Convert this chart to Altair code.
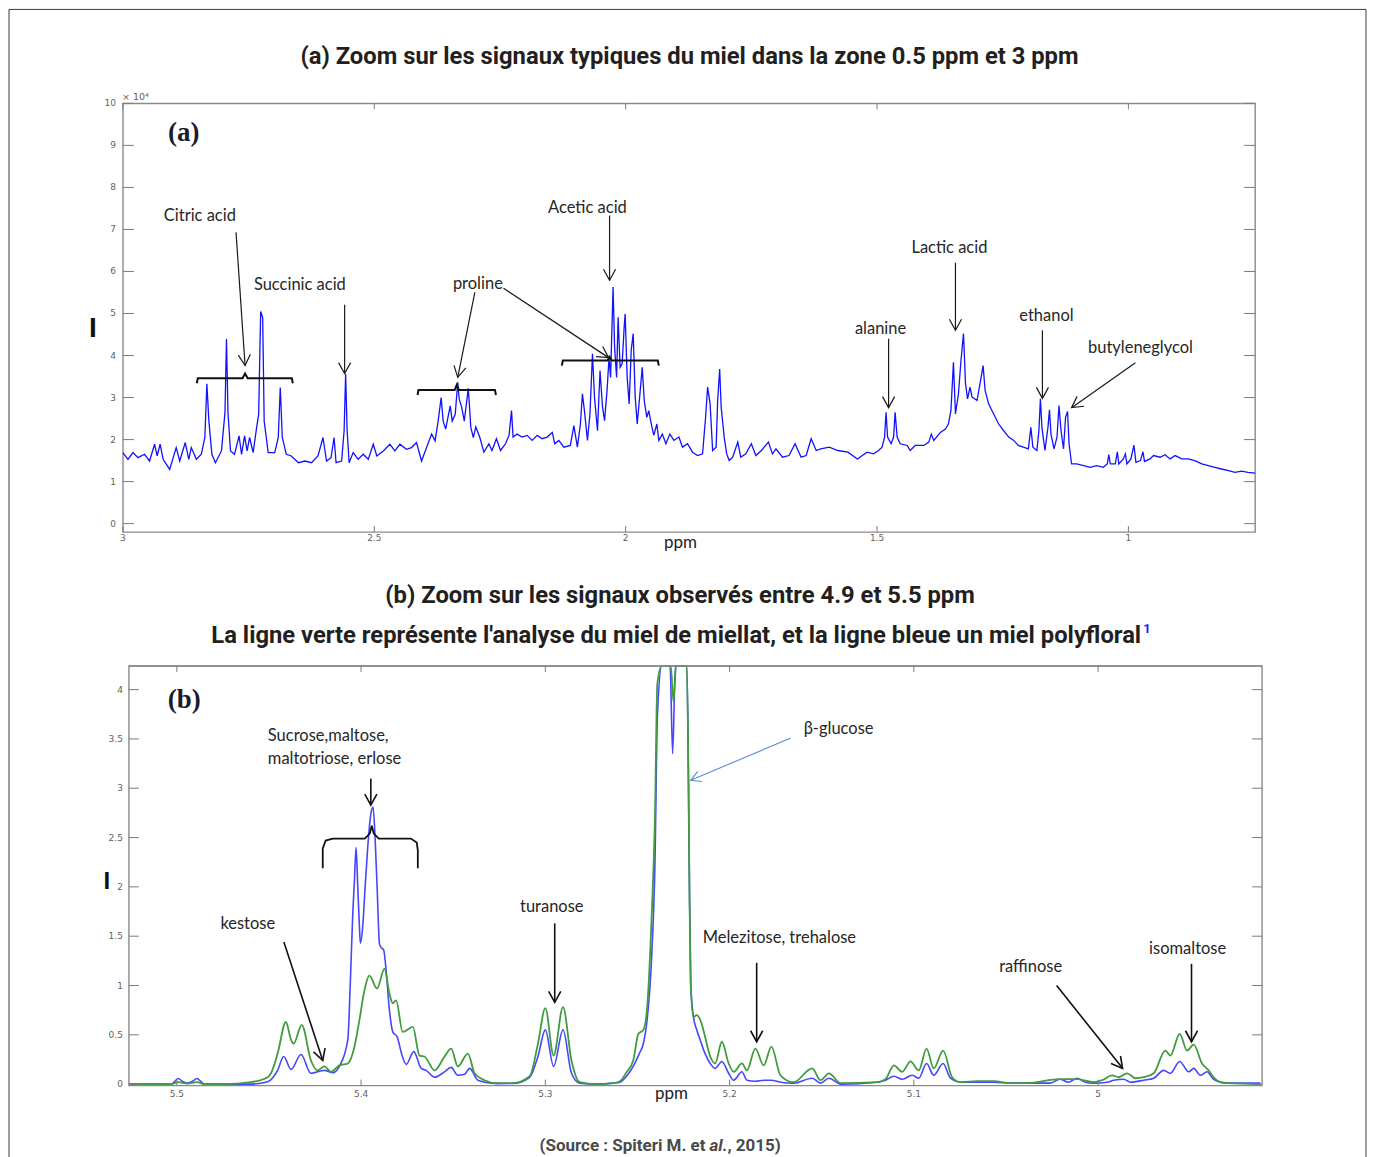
import math
import altair as alt
import pandas as pd

# ---------------------------------------------------------------- data
# Panel (a): 1H NMR spectrum 0.75 - 3 ppm (intensity x 10^4)
A_PPM = [
    3.000, 2.990, 2.980, 2.970, 2.957, 2.947, 2.937, 2.932, 2.926, 2.920,
    2.907, 2.894, 2.887, 2.876, 2.869, 2.864, 2.854, 2.844, 2.837, 2.833,
    2.829, 2.823, 2.816, 2.804, 2.797, 2.794, 2.791, 2.786, 2.778, 2.769,
    2.764, 2.758, 2.753, 2.748, 2.741, 2.734, 2.730, 2.726, 2.722, 2.719,
    2.711, 2.698, 2.691, 2.687, 2.683, 2.675, 2.665, 2.651, 2.638, 2.625,
    2.612, 2.602, 2.595, 2.586, 2.580, 2.576, 2.565, 2.560, 2.557, 2.554,
    2.550, 2.542, 2.532, 2.522, 2.512, 2.502, 2.495, 2.482, 2.469, 2.459,
    2.449, 2.436, 2.426, 2.416, 2.406, 2.396, 2.386, 2.379, 2.373, 2.367,
    2.363, 2.358, 2.349, 2.345, 2.339, 2.334, 2.331, 2.326, 2.321, 2.313,
    2.308, 2.303, 2.298, 2.290,
    2.282, 2.272, 2.266, 2.257, 2.249, 2.239, 2.232, 2.227, 2.224, 2.216,
    2.206, 2.196, 2.186, 2.176, 2.166, 2.156, 2.146, 2.141, 2.133, 2.123,
    2.110, 2.103, 2.096, 2.090, 2.086, 2.082, 2.076, 2.071, 2.066, 2.062,
    2.056, 2.051, 2.046, 2.042, 2.037, 2.033, 2.030, 2.025, 2.022, 2.018,
    2.015, 2.011, 2.007, 2.003, 2.001, 1.997, 1.993, 1.989, 1.985, 1.981,
    1.977, 1.971, 1.967, 1.963, 1.958, 1.954, 1.949, 1.944, 1.938, 1.934,
    1.927, 1.920, 1.912, 1.904, 1.894, 1.887, 1.877, 1.867, 1.857, 1.847,
    1.841, 1.837, 1.832, 1.827, 1.820, 1.817, 1.813, 1.810, 1.804, 1.799,
    1.794, 1.787, 1.777, 1.771, 1.761, 1.750, 1.741, 1.730, 1.716, 1.708,
    1.701, 1.688, 1.675, 1.663, 1.651, 1.641, 1.631, 1.621, 1.612, 1.595,
    1.578, 1.558, 1.539,
    1.520, 1.507, 1.497, 1.490, 1.485, 1.482, 1.479, 1.472, 1.467, 1.464,
    1.460, 1.454, 1.440, 1.434, 1.424, 1.407, 1.397, 1.392, 1.387, 1.374,
    1.364, 1.358, 1.353, 1.348, 1.344, 1.338, 1.333, 1.328, 1.324, 1.320,
    1.315, 1.311, 1.301, 1.293, 1.289, 1.285, 1.278, 1.268, 1.258, 1.248,
    1.238, 1.228, 1.219, 1.209, 1.199, 1.194, 1.190, 1.182, 1.178, 1.175,
    1.172, 1.166, 1.160, 1.157, 1.154, 1.148, 1.142, 1.138, 1.134, 1.129,
    1.125, 1.121, 1.118, 1.113, 1.103, 1.089, 1.076, 1.063, 1.050, 1.042,
    1.039, 1.036, 1.026, 1.022, 1.019, 1.010, 1.006, 1.003, 0.995, 0.989,
    0.985, 0.976, 0.971, 0.968, 0.957, 0.950, 0.937, 0.927, 0.917, 0.907,
    0.894, 0.881, 0.868, 0.854, 0.841, 0.828, 0.815, 0.801, 0.788, 0.775,
    0.762, 0.748,
]
A_INT = [
    1.69, 1.53, 1.69, 1.57, 1.65, 1.49, 1.89, 1.61, 1.89, 1.53,
    1.29, 1.81, 1.49, 1.93, 1.53, 1.81, 1.53, 1.65, 2.05, 3.33,
    2.44, 1.65, 1.45, 1.73, 2.64, 4.39, 2.64, 1.73, 1.65, 2.09,
    1.65, 2.09, 1.73, 2.05, 1.69, 2.29, 2.60, 5.05, 4.90, 2.44,
    1.69, 1.69, 2.05, 3.24, 2.05, 1.65, 1.61, 1.45, 1.49, 1.45,
    1.61, 2.05, 1.49, 1.57, 2.05, 1.45, 1.49, 2.21, 3.56, 2.21,
    1.45, 1.69, 1.53, 1.65, 1.53, 1.89, 1.61, 1.73, 1.89, 1.73,
    1.89, 1.77, 1.81, 1.93, 1.49, 1.81, 2.13, 1.97, 2.44, 3.00,
    2.44, 2.25, 2.80, 2.44, 2.60, 3.36, 2.96, 2.76, 2.44, 3.22,
    2.29, 2.05, 2.30, 2.05,
    1.70, 1.90, 1.74, 2.02, 1.74, 1.90, 2.10, 2.69, 2.06, 2.13,
    2.06, 2.10, 1.98, 2.10, 2.02, 2.06, 2.17, 1.90, 1.98, 1.82,
    1.86, 2.33, 1.82, 2.37, 3.09, 2.69, 1.98, 2.61, 4.04, 3.01,
    2.21, 3.64, 2.77, 2.45, 3.17, 3.96, 3.48, 5.63, 4.20, 3.48,
    4.91, 3.72, 3.80, 4.67, 4.99, 3.48, 2.85, 4.12, 4.52, 3.01,
    2.37, 3.17, 3.72, 2.93, 2.53, 2.69, 2.37, 2.10, 2.37, 1.98,
    2.13, 1.90, 2.13, 1.98, 2.06, 1.82, 1.90, 1.70, 1.62, 1.66,
    2.53, 3.25, 2.85, 1.74, 1.82, 2.93, 3.68, 2.77, 2.06, 1.66,
    1.50, 1.58, 1.94, 1.58, 1.66, 1.90, 1.62, 1.74, 1.94, 1.66,
    1.78, 1.58, 1.62, 1.90, 1.58, 1.62, 2.02, 1.74, 1.78, 1.82,
    1.74, 1.70, 1.54,
    1.70, 1.66, 1.74, 1.82, 2.06, 2.65, 2.06, 1.90, 2.06, 2.65,
    2.06, 1.90, 1.86, 1.74, 1.86, 1.86, 1.94, 2.13, 1.98, 2.17,
    2.25, 2.37, 2.69, 3.84, 2.61, 3.09, 3.88, 4.52, 3.33, 2.97,
    3.25, 3.01, 2.93, 3.48, 3.76, 3.17, 2.85, 2.61, 2.37, 2.21,
    2.06, 1.98, 1.86, 1.82, 1.78, 2.29, 1.82, 1.74, 2.21, 2.97,
    2.29, 1.74, 2.29, 2.71, 2.13, 1.78, 2.06, 2.81, 2.21, 1.78,
    2.53, 2.67, 1.90, 1.42, 1.42, 1.38, 1.34, 1.38, 1.34, 1.42,
    1.64, 1.42, 1.42, 1.71, 1.42, 1.54, 1.66, 1.42, 1.54, 1.87,
    1.46, 1.50, 1.71, 1.48, 1.54, 1.62, 1.58, 1.64, 1.54, 1.62,
    1.54, 1.54, 1.50, 1.42, 1.38, 1.34, 1.30, 1.26, 1.22, 1.25,
    1.22, 1.20,
]

# Panel (b): polyfloral honey (blue) and honeydew honey (green), 4.91 - 5.53 ppm
B_BLUE_PPM = [
    5.526, 5.510, 5.503, 5.501, 5.4993, 5.4970, 5.4942, 5.4915, 5.4891, 5.4865,
    5.4851, 5.4743, 5.4598, 5.4507, 5.4453, 5.4420, 5.4380, 5.4326, 5.4272, 5.4199,
    5.4154, 5.4118, 5.4072, 5.4058, 5.4045, 5.4036, 5.4027, 5.4018, 5.4009, 5.4004,
    5.3991, 5.3978, 5.3964, 5.3946, 5.3935, 5.3924, 5.3913, 5.3900, 5.3888, 5.3877,
    5.3864, 5.3846, 5.3828, 5.3804, 5.3779, 5.3755, 5.3714, 5.3674, 5.3647, 5.3601,
    5.3547, 5.3511, 5.3475, 5.3438, 5.3411, 5.3366, 5.3293,
    5.3267, 5.3176, 5.3085, 5.3040, 5.3000, 5.2955, 5.2904, 5.2858, 5.2813, 5.2722,
    5.2632, 5.2595, 5.2559, 5.2523, 5.2490, 5.2468, 5.2450, 5.2423, 5.2405, 5.2392,
    5.2368, 5.2340, 5.2323, 5.2309, 5.2294, 5.2278, 5.2250, 5.2232, 5.2223, 5.2218,
    5.2211, 5.2196, 5.2178, 5.2160, 5.2133, 5.2105, 5.2078, 5.2042, 5.2005, 5.1978,
    5.1933, 5.1906, 5.1860, 5.1815, 5.1773, 5.1724, 5.1652, 5.1552, 5.1506, 5.1461,
    5.1397, 5.1199, 5.1154, 5.1108, 5.1063, 5.1009, 5.0973, 5.0931, 5.0892, 5.0841,
    5.0801, 5.0747, 5.0656, 5.0566, 5.0476, 5.0385, 5.0259, 5.0208, 5.0159, 5.0114,
    5.0069, 5.0024, 4.9951, 4.9915, 4.9861, 4.9825, 4.9752, 4.9698, 4.9644, 4.9608,
    4.9557, 4.9508, 4.9481, 4.9445, 4.9409, 4.9373, 4.9300, 4.9119,
]
B_BLUE_INT = [
    0.0, 0.0, 0.0, 0.03, 0.057, 0.03, 0.01, 0.03, 0.057, 0.02,
    0.0, 0.0, 0.0, 0.025, 0.14, 0.28, 0.15, 0.30, 0.11, 0.14,
    0.115, 0.18, 0.45, 1.05, 1.73, 2.07, 2.40, 2.00, 1.60, 1.43,
    1.60, 2.00, 2.40, 2.75, 2.81, 2.50, 2.00, 1.42, 1.38, 1.36,
    1.15, 0.75, 0.53, 0.48, 0.30, 0.20, 0.33, 0.16, 0.14, 0.07,
    0.125, 0.17, 0.09, 0.10, 0.16, 0.04, 0.01,
    0.005, 0.007, 0.07, 0.28, 0.55, 0.18, 0.55, 0.11, 0.01, 0.0,
    0.01, 0.02, 0.08, 0.18, 0.31, 0.41, 0.61, 1.29, 2.24, 3.72,
    5.6, 5.9, 4.6, 3.35, 4.6, 5.9, 5.6, 4.26, 3.05, 2.03,
    1.02, 0.68, 0.55, 0.45, 0.31, 0.21, 0.16, 0.23, 0.11, 0.04,
    0.125, 0.04, 0.03, 0.04, 0.04, 0.02, 0.01, 0.06, 0.01, 0.06,
    0.0, 0.02, 0.04, 0.08, 0.05, 0.09, 0.06, 0.21, 0.09, 0.21,
    0.06, 0.02, 0.02, 0.02, 0.01, 0.01, 0.01, 0.05, 0.02, 0.06,
    0.02, 0.01, 0.02, 0.04, 0.05, 0.02, 0.04, 0.06, 0.14, 0.11,
    0.23, 0.125, 0.16, 0.09, 0.125, 0.05, 0.01, 0.01,
]
B_GREEN_PPM = [
    5.526, 5.503, 5.4993, 5.4942, 5.4891, 5.4851, 5.4743, 5.4598, 5.4507, 5.4489,
    5.4453, 5.4408, 5.4380, 5.4366, 5.4322, 5.4272, 5.4236, 5.4199, 5.4163, 5.4118,
    5.4072, 5.4036, 5.4009, 5.3982, 5.3955, 5.3913, 5.3873, 5.3846, 5.3828, 5.3810,
    5.3774, 5.3719, 5.3683, 5.3656, 5.3601, 5.3547, 5.3511, 5.3475, 5.3420, 5.3384,
    5.3330, 5.3267, 5.3176, 5.3085, 5.3040, 5.3000, 5.2955, 5.2904, 5.2858, 5.2813,
    5.2722, 5.2632, 5.2595, 5.2559, 5.2523, 5.2495, 5.2468, 5.2450, 5.2423, 5.2405,
    5.2392, 5.2368, 5.2340, 5.2319, 5.2305, 5.2290, 5.2270, 5.2247, 5.2232, 5.2223,
    5.2218, 5.2211, 5.2196, 5.2178, 5.2151, 5.2133, 5.2105, 5.2078, 5.2042, 5.2005,
    5.1978, 5.1933, 5.1906, 5.1860, 5.1815, 5.1773, 5.1724, 5.1652, 5.1552, 5.1506,
    5.1461, 5.1397, 5.1199, 5.1154, 5.1108, 5.1063, 5.1018, 5.0973, 5.0931, 5.0892,
    5.0841, 5.0792, 5.0747, 5.0656, 5.0566, 5.0476, 5.0385, 5.0208, 5.0114, 5.0024,
    4.9978, 4.9924, 4.9888, 4.9843, 4.9797, 4.9752, 4.9698, 4.9635, 4.9608, 4.9557,
    4.9517, 4.9481, 4.9436, 4.9400, 4.9373, 4.9336, 4.9300, 4.9119,
]
B_GREEN_INT = [
    0.0, 0.0, 0.02, 0.005, 0.02, 0.0, 0.0, 0.02, 0.07, 0.11,
    0.31, 0.63, 0.45, 0.41, 0.60, 0.24, 0.14, 0.18, 0.125, 0.19,
    0.21, 0.38, 0.65, 0.95, 1.10, 0.97, 1.17, 0.92, 0.82, 0.85,
    0.53, 0.58, 0.29, 0.28, 0.14, 0.28, 0.36, 0.18, 0.31, 0.11,
    0.04, 0.01, 0.01, 0.08, 0.41, 0.77, 0.29, 0.78, 0.24, 0.02,
    0.0, 0.01, 0.03, 0.12, 0.24, 0.51, 0.55, 0.72, 1.70, 2.71,
    4.06, 5.8, 6.0, 4.6, 3.88, 4.6, 6.0, 5.8, 4.3, 3.05,
    2.03, 1.02, 0.68, 0.70, 0.61, 0.48, 0.28, 0.21, 0.43, 0.21,
    0.125, 0.21, 0.14, 0.36, 0.19, 0.38, 0.09, 0.02, 0.16, 0.04,
    0.11, 0.01, 0.02, 0.05, 0.19, 0.125, 0.23, 0.14, 0.36, 0.16,
    0.34, 0.07, 0.02, 0.03, 0.03, 0.01, 0.01, 0.05, 0.05, 0.02,
    0.04, 0.09, 0.07, 0.11, 0.06, 0.07, 0.11, 0.34, 0.29, 0.51,
    0.34, 0.40, 0.21, 0.14, 0.07, 0.02, 0.01, 0.0,
]

assert len(A_PPM) == len(A_INT)
assert len(B_BLUE_PPM) == len(B_BLUE_INT)
assert len(B_GREEN_PPM) == len(B_GREEN_INT)

# tick values and tick labels
A_XTICKS = [3.0, 2.5, 2.0, 1.5, 1.0]
A_XLABELS = ["3", "2.5", "2", "1.5", "1"]
A_YTICKS = [0, 1, 2, 3, 4, 5, 6, 7, 8, 9, 10]
A_YLABELS = ["0", "1", "2", "3", "4", "5", "6", "7", "8", "9", "10"]
B_XTICKS = [5.5, 5.4, 5.3, 5.2, 5.1, 5.0]
B_XLABELS = ["5.5", "5.4", "5.3", "5.2", "5.1", "5"]
B_YTICKS = [0, 0.5, 1, 1.5, 2, 2.5, 3, 3.5, 4]
B_YLABELS = ["0", "0.5", "1", "1.5", "2", "2.5", "3", "3.5", "4"]

# annotations, panel (a) (data coordinates)
A_LABEL_TEXT = ["Citric acid", "Succinic acid", "proline", "Acetic acid",
                "alanine", "Lactic acid", "ethanol", "butyleneglycol"]
A_LABEL_PPM = [2.847, 2.648, 2.294, 2.076, 1.493, 1.356, 1.163, 0.976]
A_LABEL_INT = [7.31, 5.67, 5.71, 7.50, 4.64, 6.57, 4.93, 4.17]

A_ARROW_FROM_PPM = [2.775, 2.559, 2.300, 2.243, 2.032, 1.477, 1.344, 1.171, 0.986]
A_ARROW_FROM_INT = [6.93, 5.21, 5.50, 5.60, 7.33, 4.40, 6.21, 4.60, 3.83]
A_ARROW_TO_PPM = [2.757, 2.559, 2.334, 2.034, 2.032, 1.477, 1.344, 1.171, 1.113]
A_ARROW_TO_INT = [3.76, 3.57, 3.48, 3.95, 5.79, 2.76, 4.60, 2.98, 2.76]

CITRIC_BR_PPM = [2.853, 2.851, 2.762, 2.757, 2.752, 2.664, 2.662]
CITRIC_BR_INT = [3.34, 3.46, 3.46, 3.57, 3.46, 3.46, 3.34]
PROLINE_BR_PPM = [2.414, 2.412, 2.340, 2.336, 2.332, 2.260, 2.258]
PROLINE_BR_INT = [3.06, 3.18, 3.18, 3.30, 3.18, 3.18, 3.06]
ACETIC_BR_PPM = [2.127, 2.125, 2.036, 2.032, 2.028, 1.936, 1.934]
ACETIC_BR_INT = [3.76, 3.88, 3.88, 3.97, 3.88, 3.88, 3.76]

# annotations, panel (b)
B_CLABEL_TEXT = ["kestose", "turanose", "raffinose", "isomaltose"]
B_CLABEL_PPM = [5.4615, 5.2965, 5.0366, 4.9514]
B_CLABEL_INT = [1.62, 1.80, 1.19, 1.37]
B_LLABEL_TEXT = ["Sucrose,maltose,", "maltotriose, erlose", "β-glucose", "Melezitose, trehalose"]
B_LLABEL_PPM = [5.4506, 5.4506, 5.1598, 5.2146]
B_LLABEL_INT = [3.53, 3.30, 3.60, 1.48]

B_ARROW_FROM_PPM = [5.3947, 5.4419, 5.2949, 5.1853, 5.0225, 4.9493]
B_ARROW_FROM_INT = [3.10, 1.44, 1.63, 1.23, 1.00, 1.22]
B_ARROW_TO_PPM = [5.3947, 5.4208, 5.2949, 5.1853, 4.9867, 4.9493]
B_ARROW_TO_INT = [2.83, 0.24, 0.83, 0.43, 0.16, 0.43]
B_GLC_ARROW_PPM = [5.1668, 5.2211]
B_GLC_ARROW_INT = [3.51, 3.08]

SUCROSE_BR_PPM = [5.4208, 5.4208, 5.4192, 5.4154, 5.3980, 5.3953, 5.3942,
                  5.3931, 5.3904, 5.3730, 5.3698, 5.3692, 5.3692]
SUCROSE_BR_INT = [2.19, 2.39, 2.47, 2.49, 2.49, 2.54, 2.62,
                  2.54, 2.49, 2.49, 2.45, 2.37, 2.19]

# ---------------------------------------------------------------- style / geometry
FT = "Roboto, Liberation Sans, Arial, sans-serif"
FA = "Lato, Open Sans, sans-serif"
FK = "DejaVu Sans, sans-serif"
FSERIF = "Liberation Serif, Times New Roman, serif"
INK = "#231f20"
TICKC = "#7a7a7a"
LABC = "#5f5f5f"
BOXC = "#8a8a8a"
FRAME = "#3a3a3a"
HEAD = "M -0.55 -1 L 0 0 L 0.55 -1"

# panel (a) plot area is the view; panel (b) plot area is offset inside the same canvas
WA, HA = 1133, 429
A_XDOM = [0.748, 3.0]
A_YDOM = [-0.2, 10.0]
WB, HB = 1134, 420
BX0, BY0 = 6, 563
B_XDOM = [4.911, 5.526]
B_YDOM = [-0.015, 4.24]

ONE = pd.DataFrame({"k": [0]})

xsA = alt.Scale(domain=A_XDOM, range=[WA, 0], nice=False, zero=False)
ysA = alt.Scale(domain=A_YDOM, range=[HA, 0], nice=False, zero=False)
xsB = alt.Scale(domain=B_XDOM, range=[BX0 + WB, BX0], nice=False, zero=False)
ysB = alt.Scale(domain=B_YDOM, range=[BY0 + HB, BY0], nice=False, zero=False)
ysBc = alt.Scale(domain=B_YDOM, range=[BY0 + HB, BY0], nice=False, zero=False, clamp=True)


def X(field, s):
    return alt.X(field, type="quantitative", scale=s, axis=None)


def Y(field, s):
    return alt.Y(field, type="quantitative", scale=s, axis=None)


def ptext(text, x, y, size, font=FT, weight="bold", color=INK, align="center", style="normal"):
    return alt.Chart(ONE).mark_text(
        text=text, font=font, fontSize=size, fontWeight=weight, fontStyle=style,
        color=color, align=align, baseline="middle"
    ).encode(x=alt.value(x), y=alt.value(y))


def prule(x, y, x2=None, y2=None, color=FRAME, width=1.0):
    enc = {"x": alt.value(x), "y": alt.value(y)}
    if x2 is not None:
        enc["x2"] = alt.value(x2)
    if y2 is not None:
        enc["y2"] = alt.value(y2)
    return alt.Chart(ONE).mark_rule(color=color, strokeWidth=width).encode(**enc)


def arrows_df(x1, y1, x2, y2, W, H, xdom, ydom):
    sx = W / (xdom[1] - xdom[0])
    sy = H / (ydom[1] - ydom[0])
    rows = []
    for a, b, c, d in zip(x1, y1, x2, y2):
        dxp = -(c - a) * sx      # ppm axis runs right-to-left
        dyp = -(d - b) * sy
        ang = math.degrees(math.atan2(-dxp, dyp)) % 360
        rows.append({"x": a, "y": b, "x2": c, "y2": d, "ang": ang})
    return pd.DataFrame(rows)


def bracket_df(groups):
    rows = []
    for g, (px, py) in enumerate(groups):
        for i, (a, b) in enumerate(zip(px, py)):
            rows.append({"x": a, "y": b, "g": g, "i": i})
    return pd.DataFrame(rows)


def tick_layers(xs, ys, xt, yt, x0, y0, W, H, side_len, tb_len):
    dy = pd.DataFrame({"y": yt})
    dx = pd.DataFrame({"x": xt})
    return [
        alt.Chart(dy).mark_rule(color=TICKC, strokeWidth=1).encode(
            y=Y("y", ys), x=alt.value(x0), x2=alt.value(x0 + side_len)),
        alt.Chart(dy).mark_rule(color=TICKC, strokeWidth=1).encode(
            y=Y("y", ys), x=alt.value(x0 + W - side_len), x2=alt.value(x0 + W)),
        alt.Chart(dx).mark_rule(color=TICKC, strokeWidth=1).encode(
            x=X("x", xs), y=alt.value(y0), y2=alt.value(y0 + tb_len)),
        alt.Chart(dx).mark_rule(color=TICKC, strokeWidth=1).encode(
            x=X("x", xs), y=alt.value(y0 + H - tb_len), y2=alt.value(y0 + H)),
    ]


def label_layers(xs, ys, xt, xl, yt, yl, xlab_y, ylab_x):
    dx = pd.DataFrame({"x": xt, "t": xl})
    dy = pd.DataFrame({"y": yt, "t": yl})
    return [
        alt.Chart(dx).mark_text(font=FK, fontSize=9, color=LABC, baseline="middle", align="center").encode(
            x=X("x", xs), y=alt.value(xlab_y), text="t:N"),
        alt.Chart(dy).mark_text(font=FK, fontSize=9, color=LABC, baseline="middle", align="right").encode(
            y=Y("y", ys), x=alt.value(ylab_x), text="t:N"),
    ]


def text_layer(px, py, txt, xs, ys, size=16.5, align="center", font=FA, weight="normal", color="#262626"):
    df = pd.DataFrame({"x": px, "y": py, "t": txt})
    return alt.Chart(df).mark_text(font=font, fontSize=size, fontWeight=weight, color=color,
                                   baseline="middle", align=align).encode(
        x=X("x", xs), y=Y("y", ys), text="t:N")


def arrow_layers(df, xs, ys, color, width, size):
    shaft = alt.Chart(df).mark_rule(color=color, strokeWidth=width).encode(
        x=X("x", xs), x2="x2:Q", y=Y("y", ys), y2="y2:Q")
    head = alt.Chart(df).mark_point(shape=HEAD, size=size, filled=False, color=color,
                                    strokeWidth=width, opacity=1).encode(
        x=X("x2", xs), y=Y("y2", ys), angle=alt.Angle("ang:Q", scale=None))
    return [shaft, head]


# ---------------------------------------------------------------- panel (a) layers
dfA = pd.DataFrame({"x": A_PPM, "y": A_INT, "i": range(len(A_PPM))})
specA = alt.Chart(dfA).mark_line(color="#1212ff", strokeWidth=1.3).encode(
    x=X("x", xsA), y=Y("y", ysA), order="i:Q")

arA = arrows_df(A_ARROW_FROM_PPM, A_ARROW_FROM_INT, A_ARROW_TO_PPM, A_ARROW_TO_INT, WA, HA, A_XDOM, A_YDOM)
brA = alt.Chart(bracket_df([(CITRIC_BR_PPM, CITRIC_BR_INT), (PROLINE_BR_PPM, PROLINE_BR_INT),
                            (ACETIC_BR_PPM, ACETIC_BR_INT)])).mark_line(
    color="#111111", strokeWidth=2).encode(x=X("x", xsA), y=Y("y", ysA), detail="g:N", order="i:Q")

layersA = [
    specA,
    *tick_layers(xsA, ysA, A_XTICKS, A_YTICKS, 0, 0, WA, HA, 11, 6),
    *label_layers(xsA, ysA, A_XTICKS, A_XLABELS, A_YTICKS, A_YLABELS, 435, -7),
    brA,
    *arrow_layers(arA, xsA, ysA, "#1a1a1a", 1.2, 484),
    text_layer(A_LABEL_PPM, A_LABEL_INT, A_LABEL_TEXT, xsA, ysA),
    text_layer([2.879], [9.29], ["(a)"], xsA, ysA, size=27, font=FSERIF, weight="bold", color="#1b1b2e"),
    ptext("(a) Zoom sur les signaux typiques du miel dans la zone 0.5 ppm et 3 ppm", 567, -46, 23.8),
    ptext("× 10⁴", -1, -6, 9.5, font=FK, weight="normal", color=LABC, align="left"),
    ptext("I", -30, 226, 28, font="Liberation Sans, Arial, sans-serif", weight="bold", color="#111"),
    ptext("ppm", 558, 440, 17, font=FA, weight="normal", color="#222"),
]

# ---------------------------------------------------------------- panel (b) layers
dfBb = pd.DataFrame({"x": B_BLUE_PPM, "y": B_BLUE_INT, "i": range(len(B_BLUE_PPM))})
dfBg = pd.DataFrame({"x": B_GREEN_PPM, "y": B_GREEN_INT, "i": range(len(B_GREEN_PPM))})
boxB = alt.Chart(ONE).mark_rect(fillOpacity=0, stroke=BOXC, strokeWidth=1.4).encode(
    x=alt.value(BX0), x2=alt.value(BX0 + WB), y=alt.value(BY0), y2=alt.value(BY0 + HB))
blueB = alt.Chart(dfBb).mark_line(color="#4646ff", strokeWidth=1.6, interpolate="monotone").encode(
    x=X("x", xsB), y=Y("y", ysBc), order="i:Q")
greenB = alt.Chart(dfBg).mark_line(color="#3f9c3f", strokeWidth=1.8, interpolate="monotone").encode(
    x=X("x", xsB), y=Y("y", ysBc), order="i:Q")

arB = arrows_df(B_ARROW_FROM_PPM, B_ARROW_FROM_INT, B_ARROW_TO_PPM, B_ARROW_TO_INT, WB, HB, B_XDOM, B_YDOM)
glc = arrows_df([B_GLC_ARROW_PPM[0]], [B_GLC_ARROW_INT[0]], [B_GLC_ARROW_PPM[1]], [B_GLC_ARROW_INT[1]],
                WB, HB, B_XDOM, B_YDOM)
brB = alt.Chart(bracket_df([(SUCROSE_BR_PPM, SUCROSE_BR_INT)])).mark_line(
    color="#111111", strokeWidth=1.8).encode(x=X("x", xsB), y=Y("y", ysB), detail="g:N", order="i:Q")

layersB = [
    boxB, blueB, greenB,
    prule(BX0, BY0, x2=BX0 + WB, color=BOXC, width=1.6),
    *tick_layers(xsB, ysB, B_XTICKS, B_YTICKS, BX0, BY0, WB, HB, 10, 6),
    *label_layers(xsB, ysB, B_XTICKS, B_XLABELS, B_YTICKS, B_YLABELS, BY0 + 428, BX0 - 6),
    brB,
    *arrow_layers(arB, xsB, ysB, "#111111", 1.6, 484),
    *arrow_layers(glc, xsB, ysB, "#5b8fd0", 1.1, 400),
    text_layer(B_CLABEL_PPM, B_CLABEL_INT, B_CLABEL_TEXT, xsB, ysB),
    text_layer(B_LLABEL_PPM, B_LLABEL_INT, B_LLABEL_TEXT, xsB, ysB, align="left"),
    text_layer([5.496], [3.89], ["(b)"], xsB, ysB, size=27, font=FSERIF, weight="bold", color="#1b1b2e"),
    ptext("(b) Zoom sur les signaux observés entre 4.9 et 5.5 ppm", BX0 + 551.5, BY0 - 70, 23.8),
    ptext("La ligne verte représente l'analyse du miel de miellat, et la ligne bleue un miel polyfloral",
          BX0 + 1013, BY0 - 30, 23.8, align="right"),
    ptext("1", BX0 + 1015, BY0 - 37, 13, color="#1a1aff", align="left"),
    ptext("I", BX0 - 22, BY0 + 216, 24, font="Liberation Sans, Arial, sans-serif", weight="bold", color="#111"),
    ptext("ppm", BX0 + 543, BY0 + 428, 17, font=FA, weight="normal", color="#222"),
    ptext("(Source : Spiteri M. et", BX0 + 577, BY0 + 480, 17, color="#4a4a4a", align="right"),
    ptext("al.", BX0 + 581, BY0 + 480, 17, color="#4a4a4a", align="left", style="italic"),
    ptext(", 2015)", BX0 + 599, BY0 + 480, 17, color="#4a4a4a", align="left"),
]

# ---------------------------------------------------------------- outer frame
frame = [
    prule(-114, -94, x2=1244),
    prule(-114, -94, y2=1062),
    prule(1244, -94, y2=1062),
]

chart = alt.layer(*layersA, *layersB, *frame).resolve_scale(
    x="independent", y="independent"
).properties(
    width=WA, height=HA,
    padding={"left": 0, "top": 0, "right": 0, "bottom": 0},
    background="white",
).configure_view(stroke=BOXC, strokeWidth=1.4)

chart.save("out.html", embed_options={"renderer": "svg", "actions": False})
